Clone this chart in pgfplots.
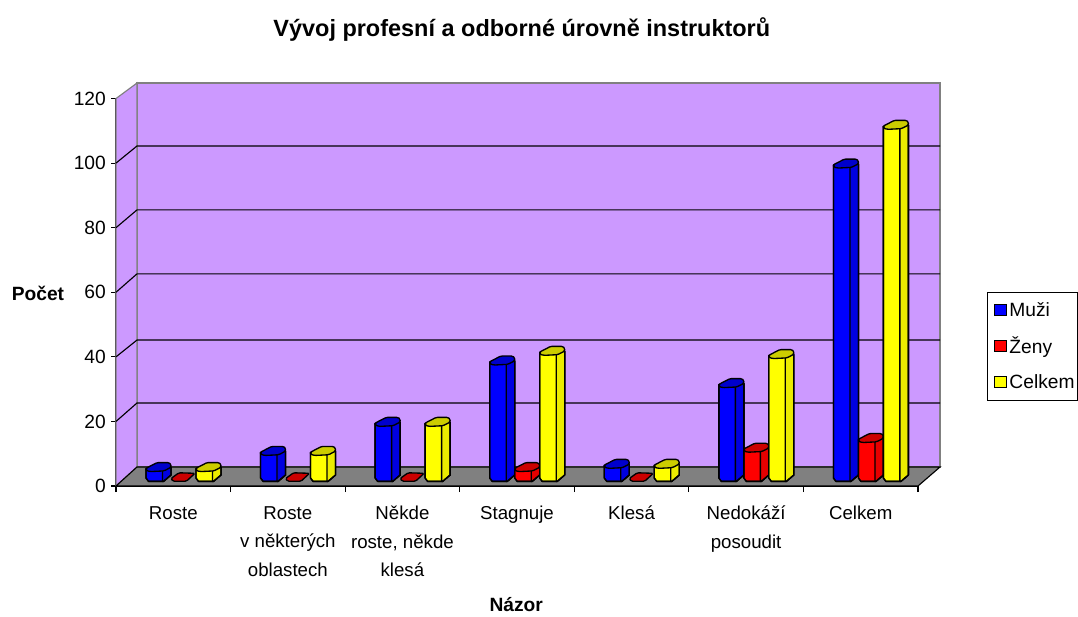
\documentclass[border=0pt]{standalone}
\usepackage{pgfplots}
\pgfplotsset{compat=1.18}
\usepackage{pgfplotstable}
\usepackage{fontspec}
\setmainfont{Liberation Sans}
\definecolor{wall}{HTML}{CC99FF}
\definecolor{floorc}{HTML}{808080}
\definecolor{bluem}{HTML}{0000FF}\definecolor{blued}{HTML}{0000E0}\definecolor{bluet}{HTML}{0000CC}
\definecolor{redm}{HTML}{FF0000}\definecolor{redd}{HTML}{E60000}\definecolor{redt}{HTML}{CC0000}
\definecolor{yelm}{HTML}{FFFF00}\definecolor{yeld}{HTML}{EBEB00}\definecolor{yelt}{HTML}{CCCC00}
\pgfplotstableread{
i muzi zeny celkem
0 3 0 3
1 8 0 8
2 17 0 17
3 36 3 39
4 4 0 4
5 29 9 38
6 97 12 109
}\datatable
\pgfdeclareplotmark{cylnone}{}
% draws one cylinder at a data point; all numbers below are offsets in px
\newcommand\cyl[4]{%
  \begin{scope}[x=0.75pt,y=0.75pt,line width=1pt,draw=black,line join=round]
  \pgfmathsetmacro\B{8-#1*3.229}%
  \pgfmathsetmacro\Bb{\B-3.4}%
  \pgfmathsetmacro\Br{min(\B+3,9)}%
  \ifdim #1pt>0.5pt
  \path[fill=#2] (-12.5,8)--(-12.5,\B)--(-10,\Bb)--(5,\Bb)--(12.5,\Br)--(12.5,9)--cycle;
  \path[fill=#3] (4,9)--(4,\Bb)--(5,\Bb)--(12.5,\Br)--(12.5,9)--cycle;
  \draw (-12.5,8)--(-12.5,\B)--(-10,\Bb)--(5,\Bb)--(12.5,\Br)--(12.5,9);
  \draw[fill=#4,rounded corners=1pt] (-12.5,8)--(-1.5,13.7)--(10.5,13.7)--(12.5,12)--(12.5,9)--(5.5,5.4)--(-8.5,4.7)--(-12.5,6)--cycle;
  \else
  \draw[fill=#4,rounded corners=1pt] (-12.5,7.5)--(-4.5,13.2)--(11.5,12.7)--(3,4.8)--(-10.5,4.8)--cycle;
  \fi
  \end{scope}%
}
\pgfplotsset{
  cylseries/.style n args={3}{
    forget plot, only marks, scatter, mark=cylnone,
    point meta=y,
    visualization depends on={rawy \as \val},
    scatter/@pre marker code/.code={\cyl{\val}{#1}{#2}{#3}},
    scatter/@post marker code/.code={},
  },
  wallp/.style={forget plot, no markers, line width=0.85pt},
}
\begin{document}
\begin{tikzpicture}[x=1pt,y=1pt]
\path[use as bounding box] (0,0) rectangle (808.5pt,462.75pt);
\begin{axis}[
  at={(87pt,98.25pt)}, anchor=south west,
  scale only axis, width=601.5pt, height=290.6pt,
  xmin=0, xmax=7, ymin=0, ymax=120,
  clip=false,
  axis x line=bottom, axis y line=left,
  axis line style={-, black, line width=0.85pt},
  tick align=outside,
  major tick length=3.6pt, minor tick length=4.6pt,
  every tick/.style={black, line width=0.85pt},
  major x tick style={draw=none},
  xtick={0.5,1.5,2.5,3.5,4.5,5.5,6.5},
  minor xtick={0,1,2,3,4,5,6,7},
  ytick={0,20,40,60,80,100,120},
  xticklabels={Roste,{Roste\\v některých\\oblastech},{Někde\\roste, někde\\klesá},Stagnuje,Klesá,{Nedokáží\\posoudit},Celkem},
  x tick label style={align=center, font=\fontsize{14}{21.4}\selectfont, anchor=north, yshift=-8pt},
  y tick label style={font=\fontsize{14.4}{16}\selectfont, /pgf/number format/assume math mode=true, xshift=-0.5pt},
  title={Vývoj profesní a odborné úrovně instruktorů},
  title style={at={(axis description cs:0.506,1)}, anchor=base, yshift=40.5pt, font=\bfseries\fontsize{17.6}{20}\selectfont},
  xlabel={Názor},
  xlabel style={at={(axis description cs:0.499,0)}, anchor=base, yshift=-94pt, font=\bfseries\fontsize{14.4}{16}\selectfont},
  ylabel={Počet},
  ylabel style={at={(axis description cs:-0.0973,0.498)}, rotate=-90, anchor=center, font=\bfseries\fontsize{14.4}{16}\selectfont},
  legend style={at={(axis description cs:1.086,0.5006)}, anchor=north west, draw=black, line width=0.85pt,
    font=\fontsize{14.4}{16}\selectfont, row sep=9.8pt, inner xsep=0.3pt, inner ysep=5.6pt, /tikz/every even column/.append style={column sep=0pt}},
  legend cell align=left,
]
% walls and floor
\addplot[wallp, draw=floorc, fill=wall] coordinates {(0.1833,5.884)(0.1833,124.8)(7.192,124.8)(7.192,5.884)(0.1833,5.884)};
\addplot[wallp, draw=floorc, fill=wall] coordinates {(0,0)(0,120)(0.1833,124.8)(0.1833,5.884)(0,0)};
\addplot[wallp, draw=black, fill=floorc] coordinates {(0,0)(0.1833,5.884)(7.192,5.884)(7,0)(0,0)};
% gridlines
\addplot[wallp, black] coordinates {(0,20)(0.1833,25.7)(7.192,25.7)};
\addplot[wallp, black] coordinates {(0,40)(0.1833,45.2)(7.192,45.2)};
\addplot[wallp, black] coordinates {(0,60)(0.1833,65.7)(7.192,65.7)};
\addplot[wallp, black] coordinates {(0,80)(0.1833,85.5)(7.192,85.5)};
\addplot[wallp, black] coordinates {(0,100)(0.1833,105.3)(7.192,105.3)};
% series
\addplot[cylseries={bluem}{blued}{bluet}] table[x expr=\thisrow{i}+0.371, y=muzi] {\datatable};
\addplot[cylseries={redm}{redd}{redt}] table[x expr=\thisrow{i}+0.589, y=zeny] {\datatable};
\addplot[cylseries={yelm}{yeld}{yelt}] table[x expr=\thisrow{i}+0.807, y=celkem] {\datatable};
% legend
\addlegendimage{legend image code/.code={\path (-2.3pt,0pt);\draw[draw=black,line width=0.85pt,fill=bluem] (2.5pt,-3.8pt) rectangle (11pt,4.4pt);}}
\addlegendentry{Muži}
\addlegendimage{legend image code/.code={\path (-2.3pt,0pt);\draw[draw=black,line width=0.85pt,fill=redm] (2.5pt,-3.8pt) rectangle (11pt,4.4pt);}}
\addlegendentry{Ženy}
\addlegendimage{legend image code/.code={\path (-2.3pt,0pt);\draw[draw=black,line width=0.85pt,fill=yelm] (2.5pt,-3.8pt) rectangle (11pt,4.4pt);}}
\addlegendentry{Celkem}
\end{axis}
\end{tikzpicture}
\end{document}
